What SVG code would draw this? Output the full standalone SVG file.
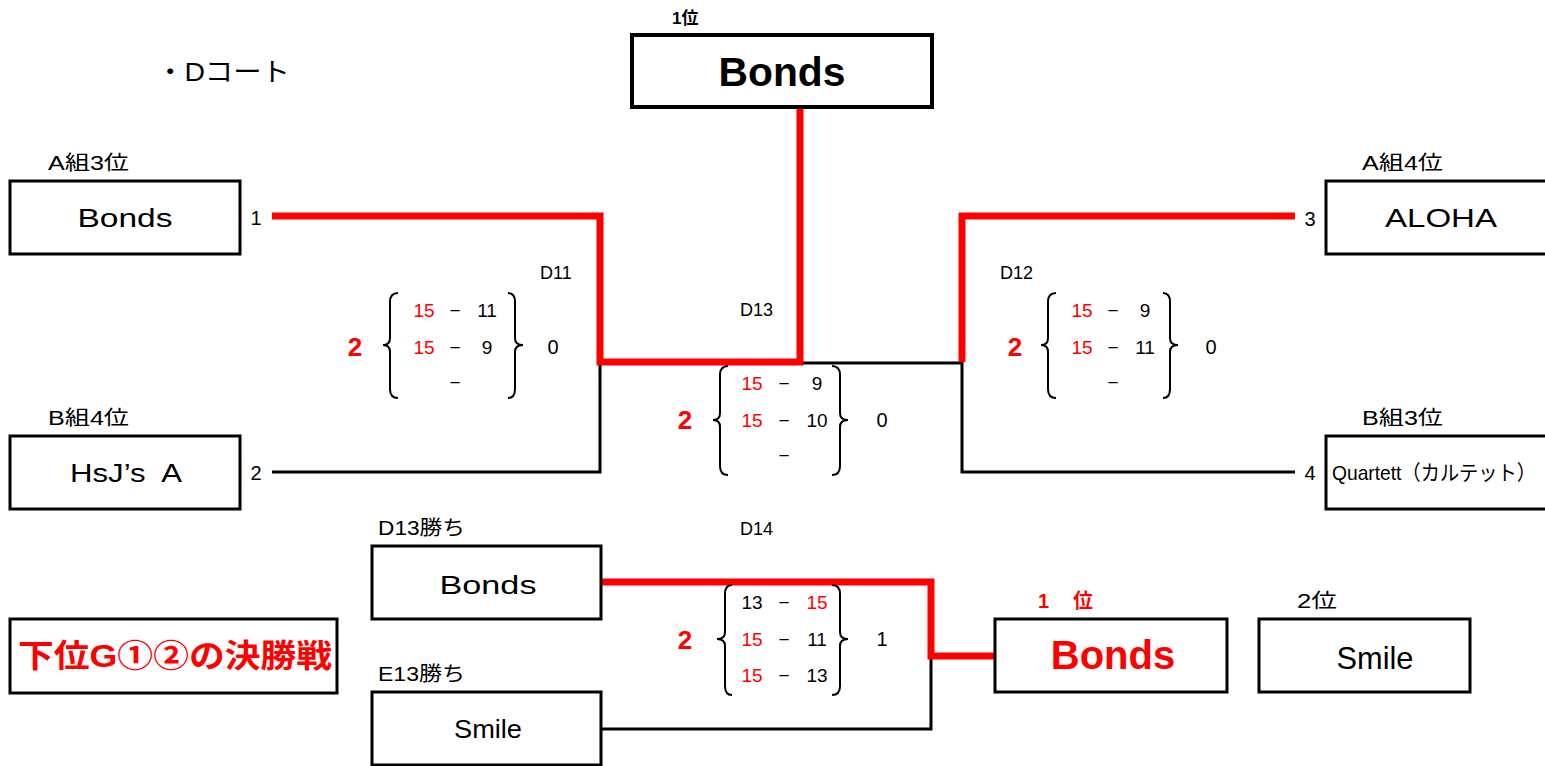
<svg xmlns="http://www.w3.org/2000/svg" width="1545" height="766" viewBox="0 0 1545 766">
<style>
text{font-family:"Liberation Sans","Noto Sans CJK JP",sans-serif;fill:#000}
.box{fill:#fff;stroke:#000;stroke-width:3}
.red{fill:#ff0000}
.b{font-weight:bold}
.mid{text-anchor:middle}
.lbl{font-size:20px}
.name{font-size:26px}
.sc{font-size:19px;text-anchor:middle}
.win{font-size:26px;font-weight:bold;fill:#ff0000;text-anchor:middle}
.lr{fill:none;stroke:#ff0000;stroke-width:7;stroke-linejoin:miter;stroke-linecap:butt}
.lb{fill:none;stroke:#000;stroke-width:3;stroke-linejoin:miter}
.br{fill:none;stroke:#000;stroke-width:2}
.dl{font-size:18px}
</style>
<rect width="1545" height="766" fill="#fff"/>
<text x="156" y="81" font-size="26" textLength="134" lengthAdjust="spacingAndGlyphs">・Dコート</text>

<g id="connectors">
<path class="lb" d="M272,472 H600 V362"/>
<path class="lb" d="M800,363 H962"/>
<path class="lb" d="M1295,472 H962 V362"/>
<path class="lb" d="M601,729 H931 V656"/>
<path class="lr" d="M272,216 H600 V362 H800 V107"/>
<path class="lr" d="M1295,216 H962 V362"/>
<path class="lr" d="M601,582 H931 V656 H995"/>
</g>

<g id="node-top">
<text x="672" y="24" font-size="17" class="b">1位</text>
<rect x="632" y="35" width="300" height="72" fill="#fff" stroke="#000" stroke-width="4"/>
<text x="782" y="86" font-size="40" class="b mid" textLength="127" lengthAdjust="spacingAndGlyphs">Bonds</text>
</g>

<g id="node-a3">
<text x="48" y="170" class="lbl" textLength="81" lengthAdjust="spacingAndGlyphs">A組3位</text>
<rect class="box" x="10" y="181" width="230" height="73"/>
<text x="125" y="227" class="name mid" textLength="95" lengthAdjust="spacingAndGlyphs">Bonds</text>
<text x="256" y="225" class="lbl mid">1</text>
</g>

<g id="node-b4">
<text x="48" y="425" class="lbl" textLength="81" lengthAdjust="spacingAndGlyphs">B組4位</text>
<rect class="box" x="10" y="436" width="230" height="73"/>
<text x="126" y="482" class="name mid" textLength="112" lengthAdjust="spacingAndGlyphs" xml:space="preserve">HsJ’s  A</text>
<text x="256" y="480" class="lbl mid">2</text>
</g>

<g id="node-a4">
<text x="1362" y="170" class="lbl" textLength="81" lengthAdjust="spacingAndGlyphs">A組4位</text>
<rect class="box" x="1326" y="181" width="232" height="73"/>
<text x="1441" y="227" class="name mid" textLength="112" lengthAdjust="spacingAndGlyphs">ALOHA</text>
<text x="1310" y="226" class="lbl mid">3</text>
</g>

<g id="node-b3">
<text x="1362" y="425" class="lbl" textLength="81" lengthAdjust="spacingAndGlyphs">B組3位</text>
<rect class="box" x="1326" y="436" width="232" height="73"/>
<text x="1332" y="480" font-size="21" textLength="204" lengthAdjust="spacingAndGlyphs">Quartett（カルテット）</text>
<text x="1310" y="480" class="lbl mid">4</text>
</g>

<g id="match-d11">
<text x="540" y="279" class="dl">D11</text>
<text x="355" y="356" class="win">2</text>
<path class="br" d="M398,293 Q390,293 390,302 V338 Q390,345 383,345 Q390,345 390,352 V389 Q390,398 398,398"/>
<path class="br" d="M508,293 Q515,293 515,302 V338 Q515,345 523,345 Q515,345 515,352 V389 Q515,398 508,398"/>
<text x="424" y="317" class="sc red">15</text><text x="455" y="317" class="sc">−</text><text x="487" y="317" class="sc">11</text>
<text x="424" y="354" class="sc red">15</text><text x="455" y="354" class="sc">−</text><text x="487" y="354" class="sc">9</text>
<text x="455" y="389" class="sc">−</text>
<text x="553" y="354" class="lbl mid">0</text>
</g>

<g id="match-d12">
<text x="1000" y="279" class="dl">D12</text>
<text x="1015" y="356" class="win">2</text>
<path class="br" d="M1056,293 Q1048,293 1048,302 V338 Q1048,345 1041,345 Q1048,345 1048,352 V389 Q1048,398 1056,398"/>
<path class="br" d="M1163,293 Q1170,293 1170,302 V338 Q1170,345 1178,345 Q1170,345 1170,352 V389 Q1170,398 1163,398"/>
<text x="1082" y="317" class="sc red">15</text><text x="1113" y="317" class="sc">−</text><text x="1145" y="317" class="sc">9</text>
<text x="1082" y="354" class="sc red">15</text><text x="1113" y="354" class="sc">−</text><text x="1145" y="354" class="sc">11</text>
<text x="1113" y="389" class="sc">−</text>
<text x="1211" y="354" class="lbl mid">0</text>
</g>

<g id="match-d13">
<text x="740" y="316" class="dl">D13</text>
<text x="685" y="429" class="win">2</text>
<path class="br" d="M728,366 Q720,366 720,375 V413 Q720,420 713,420 Q720,420 720,427 V466 Q720,475 728,475"/>
<path class="br" d="M832,366 Q840,366 840,375 V413 Q840,420 848,420 Q840,420 840,427 V466 Q840,475 832,475"/>
<text x="752" y="390" class="sc red">15</text><text x="784" y="390" class="sc">−</text><text x="817" y="390" class="sc">9</text>
<text x="752" y="427" class="sc red">15</text><text x="784" y="427" class="sc">−</text><text x="817" y="427" class="sc">10</text>
<text x="784" y="462" class="sc">−</text>
<text x="882" y="427" class="lbl mid">0</text>
</g>

<g id="node-d13win">
<text x="378" y="535" class="lbl" textLength="87" lengthAdjust="spacingAndGlyphs">D13勝ち</text>
<rect class="box" x="372" y="546" width="229" height="73"/>
<text x="488" y="594" class="name mid" textLength="97" lengthAdjust="spacingAndGlyphs">Bonds</text>
</g>

<g id="node-e13win">
<text x="378" y="681" class="lbl" textLength="87" lengthAdjust="spacingAndGlyphs">E13勝ち</text>
<rect class="box" x="372" y="692" width="229" height="73"/>
<text x="488" y="738" class="name mid" textLength="68" lengthAdjust="spacingAndGlyphs">Smile</text>
</g>

<g id="match-d14">
<text x="740" y="535" class="dl">D14</text>
<text x="685" y="649" class="win">2</text>
<path class="br" d="M732,585 Q725,585 725,594 V632 Q725,639 717,639 Q725,639 725,646 V686 Q725,695 732,695"/>
<path class="br" d="M832,585 Q840,585 840,594 V632 Q840,639 848,639 Q840,639 840,646 V686 Q840,695 832,695"/>
<text x="752" y="609" class="sc">13</text><text x="784" y="609" class="sc">−</text><text x="817" y="609" class="sc red">15</text>
<text x="752" y="646" class="sc red">15</text><text x="784" y="646" class="sc">−</text><text x="817" y="646" class="sc">11</text>
<text x="752" y="682" class="sc red">15</text><text x="784" y="682" class="sc">−</text><text x="817" y="682" class="sc">13</text>
<text x="882" y="646" class="lbl mid">1</text>
</g>

<g id="node-title">
<rect class="box" x="10" y="619" width="327" height="74"/>
<text x="18" y="667" font-size="32" class="b red" textLength="314" lengthAdjust="spacingAndGlyphs">下位G①②の決勝戦</text>
</g>

<g id="node-first">
<text x="1038" y="608" class="lbl b red" xml:space="preserve" textLength="55">1  位</text>
<rect class="box" x="995" y="619" width="232" height="73"/>
<text x="1113" y="669" font-size="40" class="b mid red">Bonds</text>
</g>

<g id="node-second">
<text x="1297" y="608" class="lbl" textLength="40" lengthAdjust="spacingAndGlyphs">2位</text>
<rect class="box" x="1259" y="619" width="211" height="73"/>
<text x="1375" y="669" font-size="32" class="mid" textLength="77" lengthAdjust="spacingAndGlyphs">Smile</text>
</g>
</svg>
